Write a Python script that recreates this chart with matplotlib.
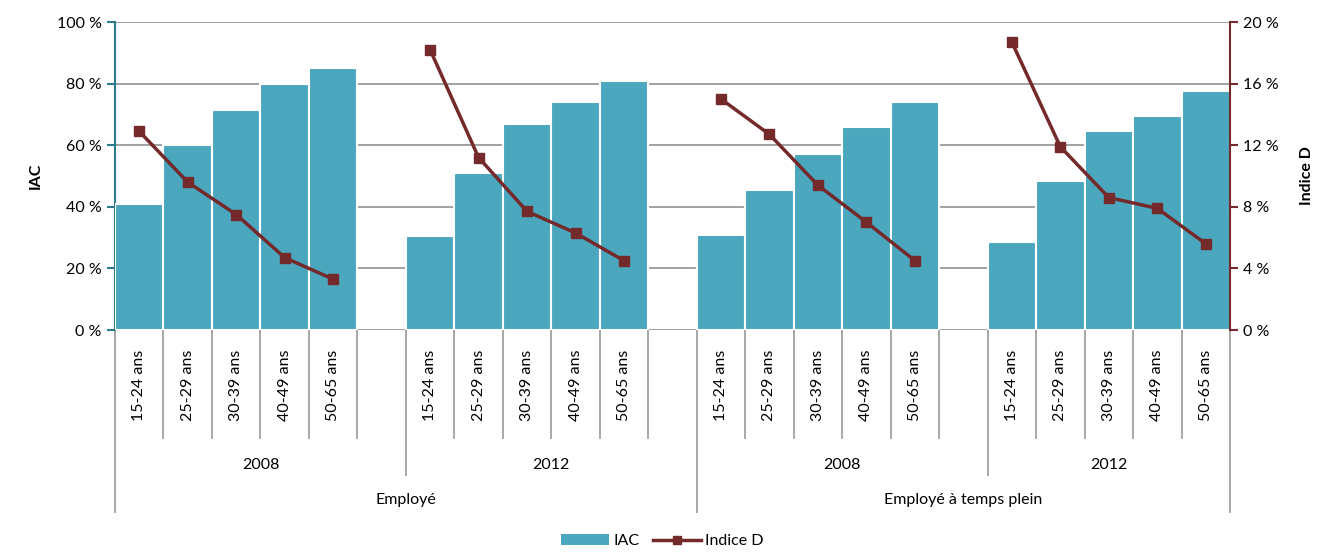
import matplotlib.pyplot as plt
from matplotlib.patches import Patch
from matplotlib.lines import Line2D
import matplotlib.transforms as mtransforms

plt.rcParams['font.family'] = ['Lato', 'DejaVu Sans']

ages = ["15-24 ans", "25-29 ans", "30-39 ans", "40-49 ans", "50-65 ans"]
years = ["2008", "2012", "2008", "2012"]
statuts = ["Employé", "Employé à temps plein"]

iac = [
    [41, 60, 71.5, 80, 85],
    [30.5, 51, 67, 74, 81],
    [31, 45.5, 57, 66, 74],
    [28.5, 48.5, 64.5, 69.5, 77.5],
]
indice_d = [
    [12.9, 9.6, 7.5, 4.7, 3.3],
    [18.2, 11.2, 7.7, 6.3, 4.5],
    [15.0, 12.7, 9.4, 7.0, 4.5],
    [18.7, 11.9, 8.6, 7.9, 5.6],
]

bar_color = '#4ba7be'
line_color = '#74292b'
grid_color = '#9a9a9a'

fig = plt.figure(figsize=(13.25, 5.52), dpi=100)
ax = fig.add_axes([115 / 1325, 1 - 330 / 552, 1115 / 1325, 308 / 552])
ax2 = ax.twinx()

# slot positions: 5 bars per group, one empty slot between groups
xs = []
for g in range(4):
    xs.append([g * 6 + i for i in range(5)])

for g in range(4):
    ax.bar(xs[g], iac[g], width=1.0, color=bar_color, edgecolor='white', linewidth=1.5, zorder=3)
    ax2.plot(xs[g], indice_d[g], color=line_color, linewidth=2.5, marker='s', markersize=7,
             markerfacecolor=line_color, markeredgecolor=line_color, zorder=4)

ax.set_xlim(-0.5, 22.5)
ax.set_ylim(0, 100)
ax2.set_ylim(0, 20)
ax.set_yticks(range(0, 101, 20))
ax.set_yticklabels([f"{v} %" for v in range(0, 101, 20)], fontsize=11.5)
ax2.set_yticks(range(0, 21, 4))
ax2.set_yticklabels([f"{v} %" for v in range(0, 21, 4)], fontsize=11.5)
ax.yaxis.grid(True, color=grid_color, linewidth=1.3, zorder=0)
ax.set_axisbelow(True)
ax.set_xticks([])

for a in (ax, ax2):
    a.spines['top'].set_visible(False)
    a.spines['bottom'].set_visible(False)
ax.spines['right'].set_visible(False)
ax2.spines['left'].set_visible(False)
ax.spines['left'].set_color('#2b7b8c')
ax.spines['left'].set_linewidth(1.5)
ax2.spines['right'].set_color(line_color)
ax2.spines['right'].set_linewidth(1.5)
ax.tick_params(axis='y', colors='#2b7b8c', labelcolor='black', length=6, width=1.5)
ax2.tick_params(axis='y', colors=line_color, labelcolor='black', length=6, width=1.5)

ax.set_ylabel("IAC", fontsize=11.5, fontweight='bold', labelpad=10)
ax2.set_ylabel("Indice D", fontsize=11.5, fontweight='bold', rotation=90, labelpad=15)

# multi-level category axis
trans = mtransforms.blended_transform_factory(ax.transData, ax.transAxes)
h = 308.0
y1 = -108 / h
y2 = -145 / h
y3 = -182 / h
sep_kw = dict(color='#a0a0a0', linewidth=1.3, transform=trans, clip_on=False)

for b in range(24):
    x = b - 0.5
    if b in (0, 12, 23):
        bottom = y3
    elif b in (6, 18):
        bottom = y2
    else:
        bottom = y1
    ax.plot([x, x], [0, bottom], **sep_kw)

for g in range(4):
    for i, lab in enumerate(ages):
        ax.text(xs[g][i], -55 / h, lab, rotation=90, ha='center', va='center',
                fontsize=11.5, transform=trans)

year_spans = [(-0.5, 5.5), (5.5, 11.5), (11.5, 17.5), (17.5, 22.5)]
for (a, b), yr in zip(year_spans, years):
    ax.text((a + b) / 2, -135 / h, yr, ha='center', va='center', fontsize=11.5, transform=trans)

statut_spans = [(-0.5, 11.5), (11.5, 22.5)]
for (a, b), st in zip(statut_spans, statuts):
    ax.text((a + b) / 2, -170 / h, st, ha='center', va='center', fontsize=11.5, transform=trans)

handles = [
    Patch(facecolor=bar_color, edgecolor='none', label='IAC'),
    Line2D([0], [0], color=line_color, linewidth=2.5, marker='s', markersize=6, label='Indice D'),
]
fig.legend(handles=handles, loc='center', bbox_to_anchor=(0.5, 1 - 541 / 552), ncol=2,
           frameon=False, fontsize=11.5, handlelength=3, columnspacing=0.8, handletextpad=0.3)

fig.savefig("out.png", dpi=100)
